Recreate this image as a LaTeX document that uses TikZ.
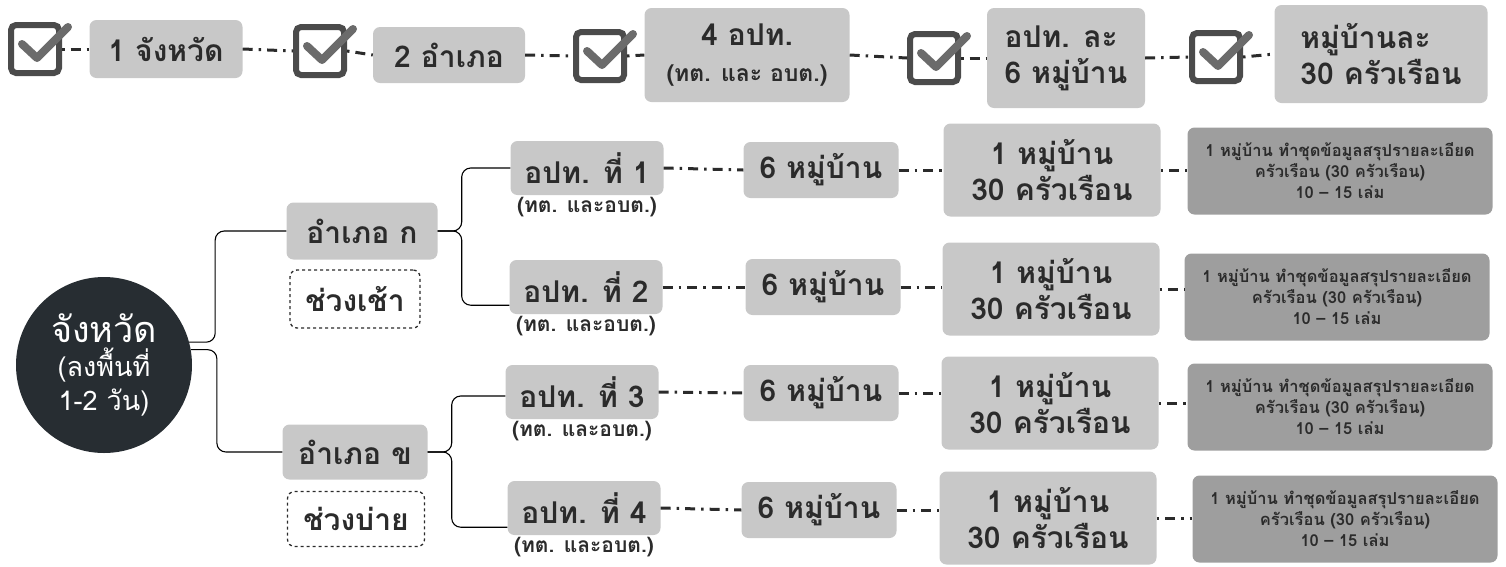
\documentclass[tikz,border=0pt]{standalone}
\usepackage{fontspec}
\setmainfont{Loma}[Script=Thai]
\usetikzlibrary{positioning}

\definecolor{boxgray}{HTML}{C8C8C8}
\definecolor{deepgray}{HTML}{9E9E9E}
\definecolor{ink}{HTML}{2B2B2B}
\definecolor{hubfill}{HTML}{272D32}
\definecolor{iconline}{HTML}{4B4B4B}
\definecolor{tickgray}{HTML}{6B6B6B}

\tikzset{
  box/.style={rounded corners=7pt, fill=boxgray, text=ink, inner sep=0pt, align=center,
    font=\bfseries\fontsize{30}{36}\selectfont},
  obox/.style={box, minimum width=153pt, minimum height=54pt},
  vbox/.style={box, minimum width=155pt, minimum height=56pt},
  hbox/.style={box, minimum width=217pt, minimum height=93pt},
  dbox/.style={box, fill=deepgray, minimum width=305pt, minimum height=87pt,
    font=\bfseries\fontsize{16.5}{21}\selectfont},
  slot/.style={box, fill=white, draw=ink, dashed, line width=1.3pt},
  note/.style={text=ink, inner sep=0pt, font=\bfseries\fontsize{21}{24}\selectfont},
  hub/.style={circle, fill=hubfill, text=white, minimum size=176pt, inner sep=0pt, align=center,
    font=\fontsize{27}{34}\selectfont},
  ticksq/.style={draw=iconline, fill=white, line width=6pt, rounded corners=5pt,
    minimum size=48pt, inner sep=0pt},
  tick/.style={draw=tickgray, line width=8pt, line cap=round, line join=round},
  dashdot/.style={draw=ink, line width=3pt, dash pattern=on 10pt off 6pt on 2.5pt off 6pt},
  dotdash/.style={draw=ink, line width=3pt, dash pattern=on 2.5pt off 6pt on 10pt off 6pt},
  tree/.style={draw=black, line width=1.1pt, rounded corners=9pt}
}

\begin{document}
\begin{tikzpicture}[x=1pt,y=-1pt]
\useasboundingbox (0,0) rectangle (1506,566);

% top row
\node[ticksq] (k1) at (35,49) {};
\node[box, minimum width=153pt, minimum height=58pt] (t1) at (166,49) {1 จังหวัด};
\node[ticksq] (k2) at (320,51) {};
\node[box, minimum width=152pt, minimum height=56pt] (t2) at (449,55) {2 อำเภอ};
\node[ticksq] (k3) at (600,56) {};
\node[box, minimum width=205pt, minimum height=94pt] (t3) at (747,55) {4 อปท.\\{\fontsize{23}{27}\selectfont (ทต. และ อบต.)}};
\node[ticksq] (k4) at (934,58) {};
\node[box, align=left, minimum width=158pt, minimum height=100pt] (t4) at (1066,58) {อปท. ละ\\6 หมู่บ้าน};
\node[ticksq] (k5) at (1216,57) {};
\node[box, align=left, minimum width=213pt, minimum height=98pt] (t5) at (1381,54) {หมู่บ้านละ\\30 ครัวเรือน};

\draw[dotdash] (k1.east) -- (t1.west);
\draw[dashdot] (t1.east) -- (k2.west);
\draw[dotdash] (k2.east) -- (t2.west);
\draw[dashdot] (t2.east) -- (k3.west);
\draw[dotdash] (k3.east) -- (t3.west);
\draw[dashdot] (t3.east) -- (k4.west);
\draw[dotdash] (k4.east) -- (t4.west);
\draw[dashdot] (t4.east) -- (k5.west);
\draw[dotdash] (k5.east) -- (t5.west);

\draw[tick] (k1.center) ++(-13,-5) -- ++(15,14) -- ++(31,-31);
\draw[tick] (k2.center) ++(-13,-5) -- ++(15,14) -- ++(31,-31);
\draw[tick] (k3.center) ++(-13,-5) -- ++(15,14) -- ++(31,-31);
\draw[tick] (k4.center) ++(-13,-5) -- ++(15,14) -- ++(31,-31);
\draw[tick] (k5.center) ++(-13,-5) -- ++(15,14) -- ++(31,-31);

% province and districts
\node[hub] (prov) at (104,365) {{\fontsize{36}{40}\selectfont จังหวัด}\\(ลงพื้นที่\\1-2 วัน)};
\node[box, minimum width=151pt, minimum height=57pt] (amA) at (362,231) {อำเภอ ก};
\node[slot, minimum width=130pt, minimum height=58pt] (amAtime) at (355,299) {ช่วงเช้า};
\node[box, minimum width=145pt, minimum height=55pt] (amB) at (355,452) {อำเภอ ข};
\node[slot, minimum width=137pt, minimum height=55pt] (amBtime) at (356,519) {ช่วงบ่าย};

\draw[tree] (prov.15) -- ++(26,0) |- (amA.west);
\draw[tree] (prov.10) -- ++(26,0) |- (amB.west);

% local bodies, villages, households
\node[obox] (o1) at (587,168) {อปท. ที่ 1};
\node[obox] (o2) at (586,287) {อปท. ที่ 2};
\node[obox] (o3) at (582,392) {อปท. ที่ 3};
\node[obox] (o4) at (584,508) {อปท. ที่ 4};
\node[note, below=2pt of o1] (n1) {(ทต. และอบต.)};
\node[note, below=2pt of o2] (n2) {(ทต. และอบต.)};
\node[note, below=2pt of o3] (n3) {(ทต. และอบต.)};
\node[note, below=2pt of o4] (n4) {(ทต. และอบต.)};

\node[vbox] (v1) at (821,170) {6 หมู่บ้าน};
\node[vbox] (v2) at (823,287) {6 หมู่บ้าน};
\node[vbox] (v3) at (821,393) {6 หมู่บ้าน};
\node[vbox] (v4) at (819,510) {6 หมู่บ้าน};

\node[hbox] (h1) at (1052,170) {1 หมู่บ้าน\\30 ครัวเรือน};
\node[hbox] (h2) at (1051,289) {1 หมู่บ้าน\\30 ครัวเรือน};
\node[hbox] (h3) at (1050,403) {1 หมู่บ้าน\\30 ครัวเรือน};
\node[hbox] (h4) at (1048,518) {1 หมู่บ้าน\\30 ครัวเรือน};

\node[dbox] (d1) at (1340,171) {1 หมู่บ้าน ทำชุดข้อมูลสรุปรายละเอียด\\ครัวเรือน (30 ครัวเรือน)\\10 -- 15 เล่ม};
\node[dbox] (d2) at (1337,297) {1 หมู่บ้าน ทำชุดข้อมูลสรุปรายละเอียด\\ครัวเรือน (30 ครัวเรือน)\\10 -- 15 เล่ม};
\node[dbox] (d3) at (1340,407) {1 หมู่บ้าน ทำชุดข้อมูลสรุปรายละเอียด\\ครัวเรือน (30 ครัวเรือน)\\10 -- 15 เล่ม};
\node[dbox] (d4) at (1345,519) {1 หมู่บ้าน ทำชุดข้อมูลสรุปรายละเอียด\\ครัวเรือน (30 ครัวเรือน)\\10 -- 15 เล่ม};

\draw[tree] (amA.east) -- ++(24,0) |- (o1.west);
\draw[tree] (amA.east) -- ++(24,0) |- ([yshift=9pt]o2.south west);
\draw[tree] (amB.east) -- ++(24,0) |- ([yshift=-4pt]o3.west);
\draw[tree] (amB.east) -- ++(24,0) |- ([yshift=8pt]o4.south west);

\draw[dashdot] (o1.east) -- (v1.west);
\draw[dashdot] (o2.east) -- (v2.west);
\draw[dashdot] (o3.east) -- (v3.west);
\draw[dashdot] (o4.east) -- (v4.west);
\draw[dashdot] (v1.east) -- (h1.west |- v1.east);
\draw[dashdot] (v2.east) -- (h2.west |- v2.east);
\draw[dashdot] (v3.east) -- (h3.west |- v3.east);
\draw[dashdot] (v4.east) -- (h4.west |- v4.east);
\draw[dotdash] (h1.east) -- (d1.west |- h1.east);
\draw[dotdash] (h2.east) -- (d2.west |- h2.east);
\draw[dotdash] (h3.east) -- (d3.west |- h3.east);
\draw[dotdash] (h4.east) -- (d4.west |- h4.east);
\end{tikzpicture}
\end{document}
